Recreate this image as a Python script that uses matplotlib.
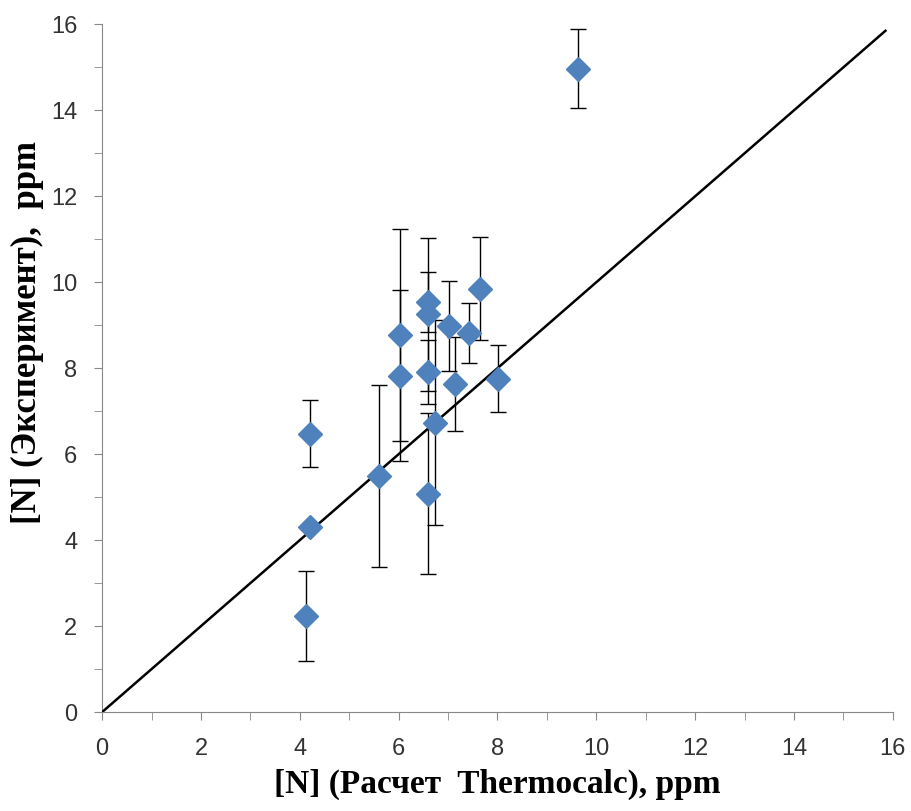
import matplotlib
matplotlib.use("Agg")
import matplotlib.pyplot as plt
from matplotlib.ticker import MultipleLocator

# расчет Thermocalc vs эксперимент, ppm
x_calc = [4.13, 4.21, 4.21, 5.61, 6.02, 6.02, 6.6, 6.6, 6.6, 6.6, 6.74,
          7.02, 7.13, 7.42, 7.64, 8.02, 9.63]
y_exp = [2.23, 4.31, 6.47, 5.49, 8.77, 7.83, 9.54, 9.25, 7.91, 5.08, 6.73,
         8.98, 7.63, 8.82, 9.85, 7.76, 14.97]
y_err = [1.05, 0.0, 0.78, 2.12, 2.47, 2.0, 0.7, 1.78, 0.75, 1.87, 2.38,
         1.04, 1.1, 0.7, 1.2, 0.77, 0.91]
line_x = [0, 15.85]
line_y = [0, 15.85]

fig = plt.figure(figsize=(9.12, 8.11), dpi=100)
ax = fig.add_axes([0.112, 0.122, 0.867, 0.848])

ax.errorbar(x_calc, y_exp, yerr=y_err, fmt="none", ecolor="black",
            elinewidth=1.0, capsize=6, capthick=1.0, zorder=2)
ax.plot(line_x, line_y, color="black", lw=1.8, zorder=3)
ax.plot(x_calc, y_exp, "D", color="#4F81BD", markersize=12, zorder=4)

ax.set_xlim(0, 16)
ax.set_ylim(0, 16)
ax.xaxis.set_major_locator(MultipleLocator(2))
ax.xaxis.set_minor_locator(MultipleLocator(1))
ax.yaxis.set_major_locator(MultipleLocator(2))
ax.yaxis.set_minor_locator(MultipleLocator(1))
for s in ["top", "right"]:
    ax.spines[s].set_visible(False)
for s in ["left", "bottom"]:
    ax.spines[s].set_color("#888888")
ax.tick_params(which="both", direction="out", length=6, color="#888888",
               labelsize=17, labelcolor="#333333")
ax.tick_params(axis="x", pad=13)
ax.tick_params(axis="y", pad=12)
for lab in ax.get_xticklabels() + ax.get_yticklabels():
    lab.set_family("Liberation Sans")

ax.set_xlabel("[N] (Расчет  Thermocalc), ppm", fontsize=24,
              fontweight="bold", family="Liberation Serif", labelpad=6)
ax.set_ylabel("[N] (Эксперимент),  ppm", fontsize=25,
              fontweight="bold", family="Liberation Serif")
ax.yaxis.set_label_coords(-0.074, 0.552)

fig.savefig("out.png", dpi=100)
